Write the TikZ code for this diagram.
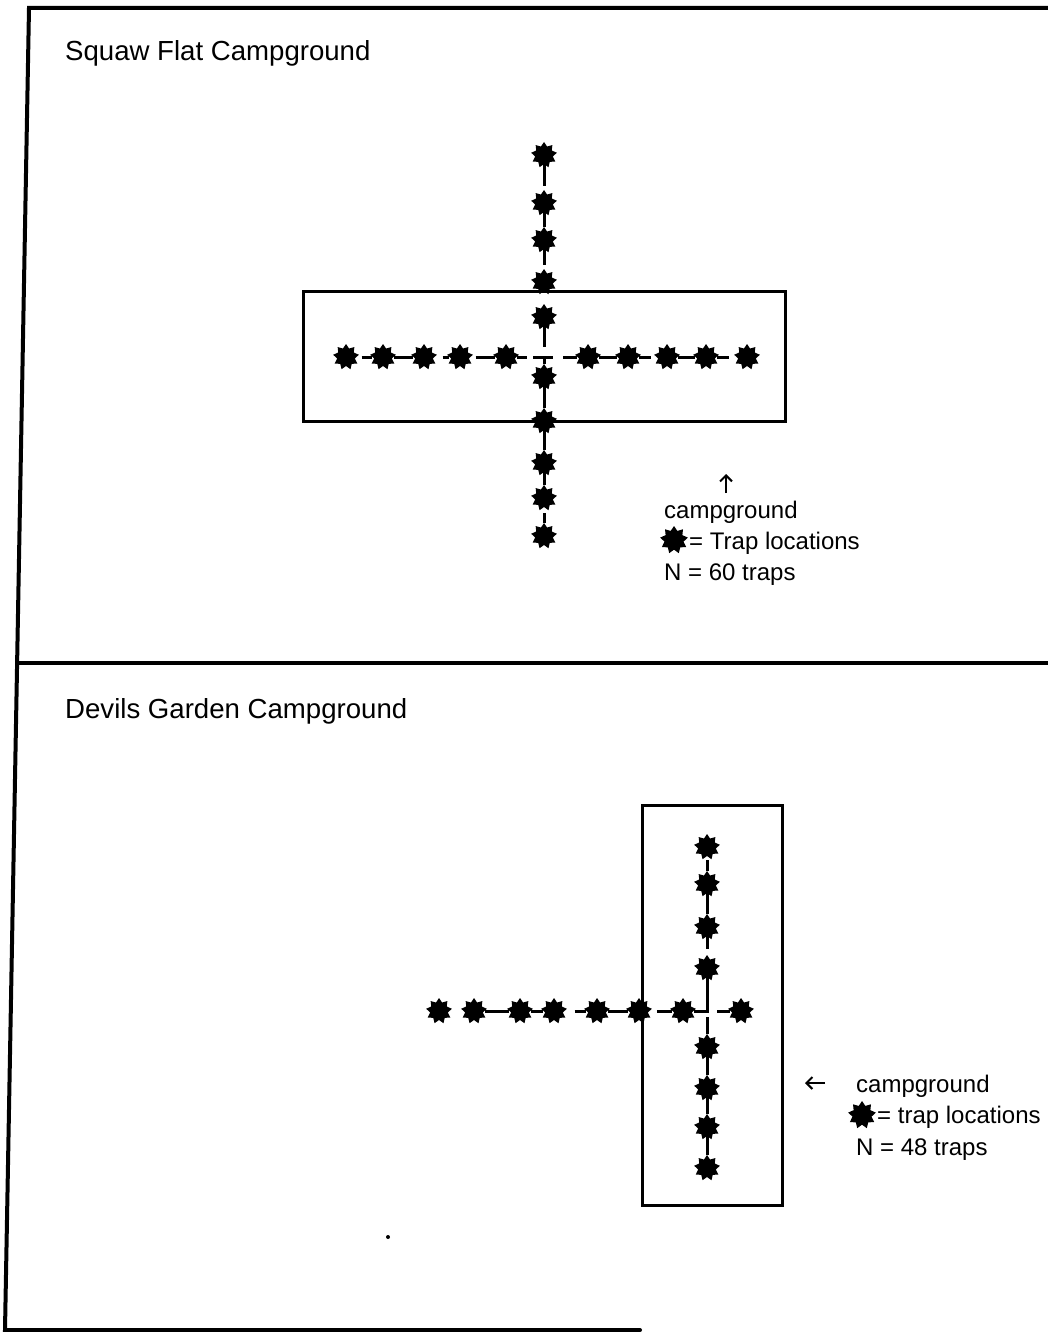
\documentclass[tikz,border=0pt]{standalone}
\usepackage{fontspec}
\setmainfont{Liberation Sans}
\usetikzlibrary{shapes.geometric,arrows.meta}
\tikzset{
  trap/.style={star, star points=9, star point ratio=1.45, minimum size=26pt, inner sep=0pt, fill=black, draw=none},
  legstar/.style={trap, minimum size=28pt},
  link/.style={line width=3pt},
  frameline/.style={line width=4pt, line cap=round},
  camp/.style={line width=3pt, line join=miter},
  title/.style={anchor=base west, inner sep=0pt, font=\fontsize{27.6}{32}\selectfont},
  legend/.style={anchor=base west, inner sep=0pt, font=\fontsize{24}{28}\selectfont},
  pointer/.style={line width=2pt, -{Straight Barb[length=6pt,width=12pt,line width=2pt]}}
}
\begin{document}
\begin{tikzpicture}[x=1pt,y=-1pt]
\useasboundingbox (0,0) rectangle (1047,1332);
% frame
\coordinate (ftl) at (29,8);
\coordinate (ftr) at (1050,8);
\coordinate (fbl) at (5,1330);
\coordinate (fbr) at (640,1330);
\coordinate (fml) at (17,663);
\coordinate (fmr) at (1050,663);
\draw[frameline] (ftr) -- (ftl) -- (fbl) -- (fbr);
\draw[frameline] (fml) -- (fmr);

% ---------------- top panel ----------------
\node[title] (t1) at (65,61) {Squaw Flat Campground};
\draw[camp] (303,291) rectangle (785,421);

% horizontal stars
\foreach \n/\x in {1/346,2/383,3/424,4/460,5/506,6/588,7/628,8/667,9/706,10/747}
  \node[trap] (th\n) at (\x,357) {};
% vertical stars
\foreach \n/\y in {1/155,2/203,3/240,4/282,5/317,6/377,7/421,8/463,9/498,10/536}
  \node[trap] (tv\n) at (544,\y) {};

\coordinate (tc) at (544,357);
\coordinate (tcl) at (527,357);
\coordinate (tdl) at (533,357);
\coordinate (tdr) at (553,357);
\coordinate (tcr) at (563,357);
\coordinate (tcu) at (544,347);

\draw[link, shorten <=5pt] (th1) -- (th2);
\draw[link] (th2) -- (th3);
\draw[link, shorten <=8pt] (th3) -- (th4);
\draw[link, shorten <=5pt] (th4) -- (th5);
\draw[link] (th5) -- (tcl);
\draw[link] (tdl) -- (tdr);
\draw[link] (tcr) -- (th6);
\draw[link] (th6) -- (th7);
\draw[link, shorten >=5pt] (th7) -- (th8);
\draw[link] (th8) -- (th9);
\draw[link, shorten >=7pt] (th9) -- (th10);

\draw[link, shorten >=4pt] (tv1) -- (tv2);
\draw[link] (tv2) -- (tv3);
\draw[link, shorten >=4pt] (tv3) -- (tv4);
\draw[link] (tv5) -- (tcu);
\draw[link] (tc) -- (tv6);
\draw[link] (tv6) -- (tv7);
\draw[link] (tv7) -- (tv8);
\draw[link] (tv8) -- (tv9);
\draw[link, shorten <=6pt] (tv9) -- (tv10);

% legend top
\coordinate (tas) at (726,493);
\coordinate (tae) at (726,474);
\draw[pointer] (tas) -- (tae);
\node[legend] (tl1) at (664,518) {campground};
\node[legstar] (tls) at (674,540) {};
\node[legend] (tl2) at (689,549) {= Trap locations};
\node[legend] (tl3) at (664,580) {N = 60 traps};

% ---------------- bottom panel ----------------
\node[title] (b1) at (65,718) {Devils Garden Campground};
\draw[camp] (642,805) rectangle (782,1205);

\foreach \n/\x in {1/439,2/474,3/520,4/554,5/597,6/639,7/683,8/741}
  \node[trap] (bh\n) at (\x,1011) {};
\foreach \n/\y in {1/847,2/884,3/927,4/968,5/1047,6/1088,7/1127,8/1168}
  \node[trap] (bv\n) at (707,\y) {};

\coordinate (bc) at (707,1011);
\coordinate (bce) at (709,1011);

\draw[link] (bh2) -- (bh3);
\draw[link] (bh3) -- (bh4);
\draw[link, shorten <=10pt] (bh4) -- (bh5);
\draw[link] (bh5) -- (bh6);
\draw[link, shorten <=7pt] (bh6) -- (bh7);
\draw[link] (bh7) -- (bce);
\draw[link, shorten <=10pt] (bc) -- (bh8);

\draw[link, shorten <=4pt] (bv1) -- (bv2);
\draw[link] (bv2) -- (bv3);
\draw[link, shorten >=6pt] (bv3) -- (bv4);
\draw[link] (bv4) -- (bc);
\draw[link, shorten <=6pt] (bc) -- (bv5);
\draw[link] (bv5) -- (bv6);
\draw[link] (bv6) -- (bv7);
\draw[link] (bv7) -- (bv8);

% legend bottom
\coordinate (bas) at (825,1083);
\coordinate (bae) at (805,1083);
\draw[pointer] (bas) -- (bae);
\node[legend] (bl1) at (856,1092) {campground};
\node[legstar] (bls) at (862,1115) {};
\node[legend] (bl2) at (877,1123) {= trap locations};
\node[legend] (bl3) at (856,1155) {N = 48 traps};

% speck
\fill (388,1237) circle (2pt);
\end{tikzpicture}
\end{document}
